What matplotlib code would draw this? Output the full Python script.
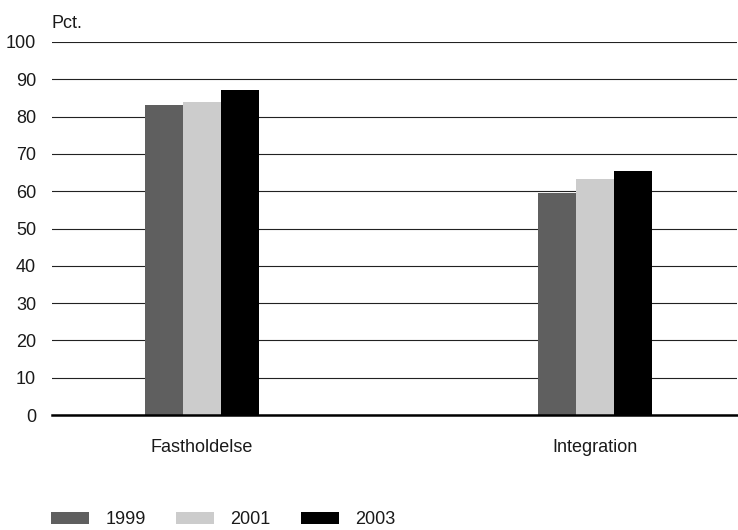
import matplotlib
matplotlib.use("Agg")
import matplotlib.pyplot as plt
import numpy as np

plt.rcParams['font.family'] = ['Liberation Sans', 'DejaVu Sans']

categories = ["Fastholdelse", "Integration"]
years = ["1999", "2001", "2003"]
values_1999 = [83.0, 59.4]
values_2001 = [84.0, 63.2]
values_2003 = [87.1, 65.3]
colors = ["#5f5f5f", "#cccccc", "#000000"]
yticks = [0, 10, 20, 30, 40, 50, 60, 70, 80, 90, 100]

fig = plt.figure(figsize=(7.38, 5.30), dpi=100)
ax = fig.add_axes([52/738, 1 - 415/530, (737 - 52)/738, (415 - 42)/530])

x = np.arange(len(categories))
width = 0.097
handles = []
for i, (vals, col, lab) in enumerate(zip([values_1999, values_2001, values_2003], colors, years)):
    b = ax.bar(x + (i - 1) * width, vals, width=width, color=col, label=lab, zorder=3)
    handles.append(b)

ax.set_ylim(0, 100)
ax.set_xlim(-0.382, 1.361)
ax.set_yticks(yticks)
ax.set_yticklabels([str(t) for t in yticks], fontsize=13, color="#1a1a1a")
ax.yaxis.grid(True, color="#222222", linewidth=0.8, zorder=1)
ax.set_axisbelow(True)
ax.set_xticks(x)
ax.set_xticklabels(categories, fontsize=13, color="#1a1a1a")
ax.tick_params(axis="both", length=0)
ax.tick_params(axis="y", pad=11.5)
ax.tick_params(axis="x", pad=17.5)
for s in ["top", "right", "left"]:
    ax.spines[s].set_visible(False)
ax.spines["bottom"].set_linewidth(1.8)
ax.spines["bottom"].set_color("black")
ax.spines["bottom"].set_zorder(4)

fig.text(52/738, 1 - 23/530, "Pct.", fontsize=13, ha="left", va="center", color="#1a1a1a")

fig.legend(handles=handles, labels=years, loc="lower left",
           bbox_to_anchor=(51/738, 2/530), ncol=3, frameon=False,
           fontsize=13, handlelength=2.1, handleheight=0.67,
           handletextpad=0.9, columnspacing=1.7, borderpad=0, borderaxespad=0,
           labelcolor="#1a1a1a")

fig.savefig("out.png", dpi=100)
